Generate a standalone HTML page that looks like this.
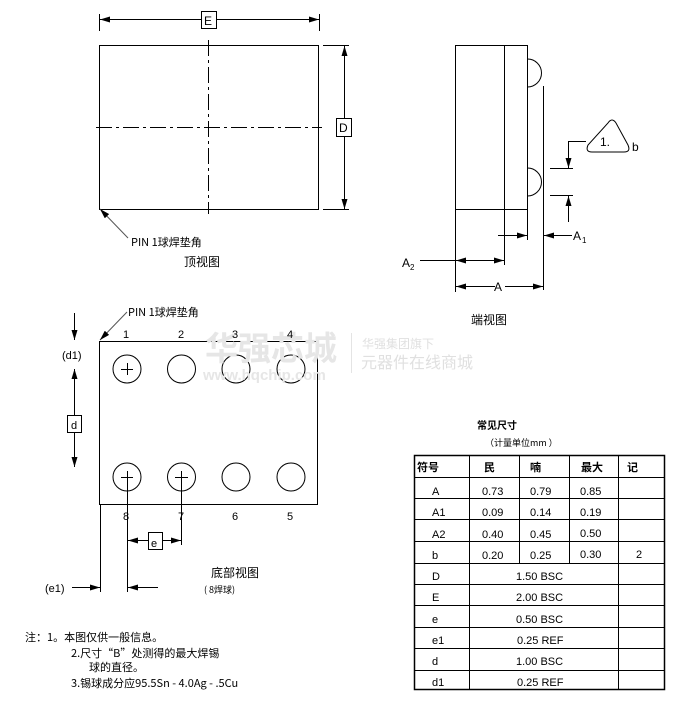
<!DOCTYPE html>
<html><head><meta charset="utf-8"><style>
html,body{margin:0;padding:0;background:#fff;}
svg{display:block;}
text{font-family:"Liberation Sans","DejaVu Sans","Noto Sans CJK SC",sans-serif;font-size:11px;fill:#000;}
.cjk{font-family:"Noto Sans CJK SC","WenQuanYi Zen Hei",sans-serif;}
</style></head><body>
<svg width="686" height="707" viewBox="0 0 686 707" xmlns="http://www.w3.org/2000/svg">
<defs>
<marker id="ar" viewBox="0 0 10 6" refX="10" refY="3" markerWidth="10" markerHeight="6" orient="auto-start-reverse" markerUnits="userSpaceOnUse">
<path d="M0,0 L10,3 L0,6 z" fill="#000"/></marker>
</defs>
<g stroke="#000" stroke-width="1" fill="none">
<rect x="99.5" y="45.5" width="219" height="164"/>
<line x1="99.5" y1="14" x2="99.5" y2="31"/><line x1="319.5" y1="14" x2="319.5" y2="31"/>
<line x1="100" y1="19.5" x2="201" y2="19.5" marker-start="url(#ar)"/>
<line x1="216" y1="19.5" x2="319" y2="19.5" marker-end="url(#ar)"/>
<rect x="201.5" y="11.5" width="15" height="17"/>
<line x1="323" y1="45.5" x2="349" y2="45.5"/><line x1="323" y1="209.5" x2="349" y2="209.5"/>
<line x1="344.5" y1="46" x2="344.5" y2="118" marker-start="url(#ar)"/>
<line x1="344.5" y1="136" x2="344.5" y2="209" marker-end="url(#ar)"/>
<rect x="336.5" y="118.5" width="15" height="18"/>
<line x1="208.5" y1="40" x2="208.5" y2="214" stroke-dasharray="16,4,3,4"/>
<line x1="96" y1="127.5" x2="322" y2="127.5" stroke-dasharray="16,4,3,4"/>
<line x1="128" y1="238" x2="100" y2="209" stroke="#555" marker-end="url(#ar)"/>
<rect x="455.5" y="45.5" width="72" height="164"/>
<line x1="504.5" y1="45" x2="504.5" y2="209"/>
<path d="M527.5,59 A14,14 0 0 1 527.5,87"/>
<path d="M527.5,168 A14,14 0 0 1 527.5,196"/>
<line x1="543.5" y1="86" x2="543.5" y2="290"/>
<line x1="550" y1="168.5" x2="573" y2="168.5"/><line x1="550" y1="195.5" x2="573" y2="195.5"/>
<polyline points="586,141.5 568.5,141.5 568.5,168" marker-end="url(#ar)"/>
<line x1="568.5" y1="222" x2="568.5" y2="196" marker-end="url(#ar)"/>
<path d="M608,123 Q612,117 616,123 L628,145 Q631,152 624,152 L592,152 Q585,152 588,145 Z"/>
<line x1="455.5" y1="210" x2="455.5" y2="292"/><line x1="504.5" y1="210" x2="504.5" y2="265"/><line x1="527.5" y1="210" x2="527.5" y2="240"/>
<line x1="498" y1="235.5" x2="527" y2="235.5" marker-end="url(#ar)"/>
<line x1="572" y1="235.5" x2="544" y2="235.5" marker-end="url(#ar)"/>
<line x1="420" y1="260.5" x2="455" y2="260.5"/>
<line x1="480" y1="260.5" x2="456" y2="260.5" marker-end="url(#ar)"/>
<line x1="480" y1="260.5" x2="504" y2="260.5" marker-end="url(#ar)"/>
<line x1="495" y1="286.5" x2="456" y2="286.5" marker-end="url(#ar)"/>
<line x1="505" y1="286.5" x2="543" y2="286.5" marker-end="url(#ar)"/>
<rect x="99.5" y="341.5" width="218" height="163"/>
<line x1="127" y1="312" x2="100" y2="340" stroke="#555" marker-end="url(#ar)"/>
<circle cx="127" cy="369" r="14"/><circle cx="181.5" cy="369" r="14"/><circle cx="236" cy="369" r="14"/><circle cx="291" cy="369" r="14"/>
<circle cx="127" cy="477" r="14"/><circle cx="181.5" cy="477" r="14"/><circle cx="236" cy="477" r="14"/><circle cx="291" cy="477" r="14"/>
<path d="M121,369.5 H133 M127.5,363 V375 M121,477.5 H133 M127.5,471 V483 M175,477.5 H188 M181.5,471 V483"/>
<line x1="127.5" y1="477" x2="127.5" y2="592"/><line x1="181.5" y1="477" x2="181.5" y2="545"/>
<line x1="100.5" y1="505" x2="100.5" y2="592"/>
<line x1="148" y1="540.5" x2="128" y2="540.5" marker-end="url(#ar)"/>
<line x1="162" y1="540.5" x2="181" y2="540.5" marker-end="url(#ar)"/>
<rect x="148.5" y="532.5" width="14" height="17"/>
<line x1="72" y1="587.5" x2="100" y2="587.5" marker-end="url(#ar)"/>
<line x1="158" y1="587.5" x2="128" y2="587.5" marker-end="url(#ar)"/>
<line x1="74.5" y1="313" x2="74.5" y2="340" marker-end="url(#ar)"/>
<line x1="74.5" y1="415" x2="74.5" y2="369" marker-end="url(#ar)"/>
<line x1="74.5" y1="432" x2="74.5" y2="467" marker-end="url(#ar)"/>
<rect x="67.5" y="415.5" width="14" height="17"/>
<rect x="414.5" y="455.5" width="250" height="234" stroke-width="1.5"/>
<path d="M414,477.5 H665 M414,498.5 H665 M414,519.5 H665 M414,541.5 H665 M414,563.5 H665 M414,584.5 H665 M414,605.5 H665 M414,627.5 H665 M414,648.5 H665 M414,670.5 H665"/>
<path d="M469.5,455 V690 M519.5,455 V563 M569.5,455 V563 M618.5,455 V690"/>
</g>
<g fill="#e4e4e4">
<text x="205" y="360" class="cjk" style="font-size:33px;font-weight:bold;fill:#e6e6e6">华强芯城</text>
<text x="203" y="380" style="font-size:15px;font-weight:bold;fill:#e6e6e6">www.hqchip.com</text>
<rect x="351" y="333" width="1" height="40" fill="#e4e4e4"/>
<text x="362" y="348" class="cjk" style="font-size:12px;fill:#e0e0e0">华强集团旗下</text>
<text x="361" y="368" class="cjk" style="font-size:16px;fill:#e0e0e0">元器件在线商城</text>
</g>
<text x="204" y="25" style="font-size:12px">E</text>
<text x="339" y="132" style="font-size:12px">D</text>
<text x="131" y="246" class="cjk">PIN 1球焊垫角</text>
<text x="184" y="266" class="cjk" style="font-size:12px">顶视图</text>
<text x="600" y="146" style="font-size:12px">1.</text>
<text x="632" y="151" style="font-size:12px">b</text>
<text x="573" y="240" style="font-size:12px">A</text><text x="582" y="243" style="font-size:8px">1</text>
<text x="402" y="267" style="font-size:12px">A</text><text x="410" y="270" style="font-size:8px">2</text>
<text x="494" y="291" style="font-size:12px">A</text>
<text x="471" y="324" class="cjk" style="font-size:12px">端视图</text>
<text x="128" y="316" class="cjk">PIN 1球焊垫角</text>
<g style="font-size:13px">
<text x="123" y="338">1</text><text x="178" y="338">2</text><text x="232" y="338">3</text><text x="287" y="338">4</text>
<text x="123" y="520">8</text><text x="178" y="520">7</text><text x="232" y="520">6</text><text x="287" y="520">5</text>
<text x="62" y="359">(d1)</text>
<text x="71" y="429">d</text>
<text x="151" y="547">e</text>
<text x="45" y="592">(e1)</text>
</g>
<text x="211" y="577" class="cjk" style="font-size:12px">底部视图</text>
<text x="204" y="593" class="cjk" style="font-size:9px">(  8焊球)</text>
<g class="cjk" style="font-size:11px">
<text x="25" y="641" class="cjk">注：1。本图仅供一般信息。</text>
<text x="71" y="657" class="cjk">2.尺寸“B”处测得的最大焊锡</text>
<text x="89" y="671" class="cjk">球的直径。</text>
<text x="71" y="687" class="cjk">3.锡球成分应95.5Sn - 4.0Ag - .5Cu</text>
</g>
<text x="477" y="429" class="cjk" style="font-size:10px;font-weight:bold">常见尺寸</text>
<text x="485" y="446" class="cjk" style="font-size:9px">（计量单位mm ）</text>
<g class="cjk" style="font-size:10px;font-weight:bold">
<text x="417" y="471" class="cjk">符号</text><text x="484" y="471" class="cjk">民</text><text x="530" y="471" class="cjk">喃</text><text x="581" y="471" class="cjk">最大</text><text x="627" y="471" class="cjk">记</text>
</g>
<g style="font-size:12px">
<text x="432" y="495">A</text><text x="482" y="495">0.73</text><text x="530" y="495">0.79</text><text x="580" y="495">0.85</text>
<text x="432" y="516">A1</text><text x="482" y="516">0.09</text><text x="530" y="516">0.14</text><text x="580" y="516">0.19</text>
<text x="432" y="538">A2</text><text x="482" y="538">0.40</text><text x="530" y="538">0.45</text><text x="580" y="537">0.50</text>
<text x="432" y="559">b</text><text x="482" y="559">0.20</text><text x="530" y="559">0.25</text><text x="580" y="558">0.30</text><text x="636" y="558">2</text>
<text x="432" y="580">D</text><text x="516" y="580">1.50 BSC</text>
<text x="432" y="601">E</text><text x="516" y="601">2.00 BSC</text>
<text x="432" y="623">e</text><text x="516" y="623">0.50 BSC</text>
<text x="432" y="644">e1</text><text x="517" y="644">0.25 REF</text>
<text x="432" y="665">d</text><text x="516" y="665">1.00 BSC</text>
<text x="432" y="686">d1</text><text x="517" y="686">0.25 REF</text>
</g>
</svg>
</body></html>
